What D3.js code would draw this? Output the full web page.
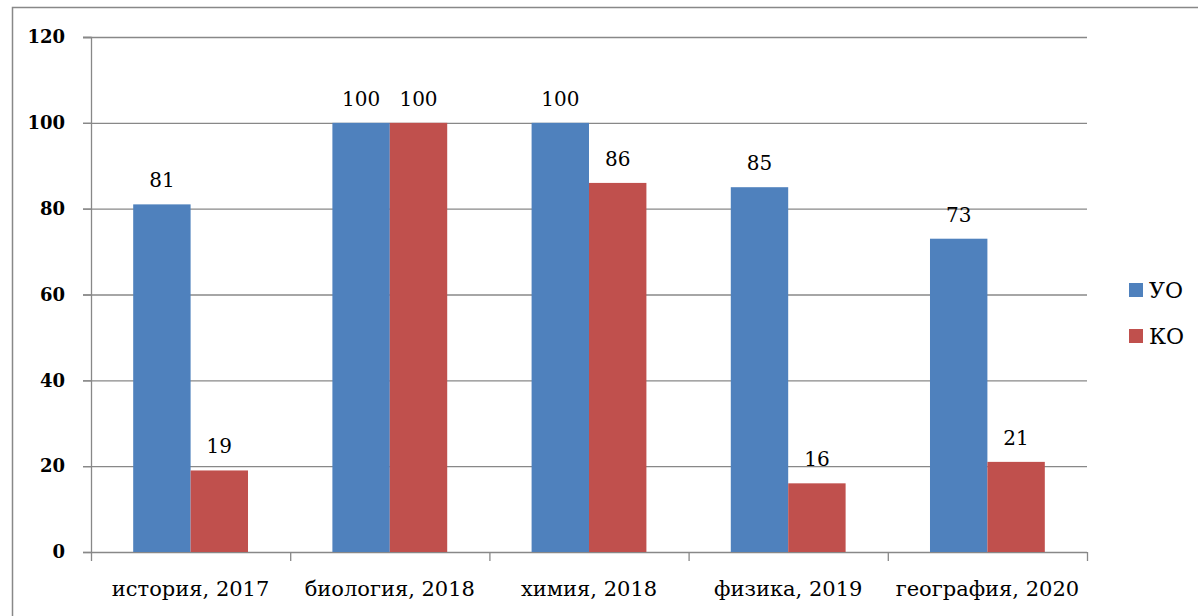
<!DOCTYPE html>
<style>
    body { margin: 0; background: #fff; }
    text { font-family: 'DejaVu Serif', serif; fill: #000; }
</style>
<svg width="1198" height="616"></svg>
<script src="https://d3js.org/d3.v7.min.js"></script>
<script>
    // data
    var categories = ["история, 2017", "биология, 2018", "химия, 2018", "физика, 2019", "география, 2020"];
    var seriesNames = ["УО", "КО"];
    var uoValues = [81, 100, 100, 85, 73];
    var koValues = [19, 100, 86, 16, 21];
    var yTicks = [0, 20, 40, 60, 80, 100, 120];
    var colors = ["#4F81BD", "#C0504D"];

    var svg = d3.select("svg"),
        margin = {top: 37, right: 111, bottom: 64, left: 91},
        width = +svg.attr("width") - margin.left - margin.right,
        height = +svg.attr("height") - margin.top - margin.bottom;

    // outer frame
    svg.append("rect")
        .attr("x", 12.5).attr("y", 7.5)
        .attr("width", 1200).attr("height", 700)
        .attr("fill", "none")
        .attr("stroke", "#888").attr("stroke-width", 1.5);

    var g = svg.append("g").attr("transform", "translate(" + margin.left + "," + margin.top + ")");

    var x0 = d3.scaleBand().domain(categories).range([0, width]);
    var x1 = d3.scaleBand().domain(seriesNames).range([0, x0.bandwidth()]).paddingOuter(0.735);
    var y = d3.scaleLinear().domain([0, 120]).range([height, 0]);
    var z = d3.scaleOrdinal().domain(seriesNames).range(colors);

    // gridlines
    g.append("g")
        .selectAll("line")
        .data(yTicks.filter(function(d) { return d > 0; }))
        .enter().append("line")
        .attr("x1", -8).attr("x2", width)
        .attr("y1", function(d) { return y(d) + 0.5; })
        .attr("y2", function(d) { return y(d) + 0.5; })
        .attr("stroke", "#888").attr("stroke-width", 1.3);

    // y axis
    var yAxis = g.append("g")
        .call(d3.axisLeft(y).tickValues(yTicks).tickSize(8).tickPadding(18));
    yAxis.select(".domain").attr("stroke", "#888").attr("stroke-width", 1.3);
    yAxis.selectAll(".tick line").attr("stroke", "#888").attr("stroke-width", 1.3);
    yAxis.selectAll("text")
        .style("font-family", "'DejaVu Serif', serif")
        .style("font-size", "18px")
        .style("font-weight", "bold")
        .attr("fill", "#000");

    // x axis
    var xAxisG = g.append("g").attr("transform", "translate(0," + height + ")");
    xAxisG.append("line")
        .attr("x1", 0).attr("x2", width)
        .attr("y1", 0.5).attr("y2", 0.5)
        .attr("stroke", "#888").attr("stroke-width", 1.3);
    xAxisG.selectAll("line.tk")
        .data(d3.range(categories.length + 1))
        .enter().append("line")
        .attr("class", "tk")
        .attr("x1", function(i) { return i * x0.step() + 0.5; })
        .attr("x2", function(i) { return i * x0.step() + 0.5; })
        .attr("y1", 0).attr("y2", 9)
        .attr("stroke", "#888").attr("stroke-width", 1.3);
    xAxisG.selectAll("text")
        .data(categories)
        .enter().append("text")
        .attr("x", function(d) { return x0(d) + x0.bandwidth() / 2; })
        .attr("y", 44)
        .attr("text-anchor", "middle")
        .style("font-size", "21px")
        .text(function(d) { return d; });

    // bars
    var rows = categories.map(function(c, i) { return {cat: c, values: [uoValues[i], koValues[i]]}; });
    var groups = g.append("g")
        .selectAll("g")
        .data(rows)
        .enter().append("g")
        .attr("transform", function(d) { return "translate(" + x0(d.cat) + ",0)"; });

    groups.selectAll("rect")
        .data(function(d) { return d.values.map(function(v, j) { return {key: seriesNames[j], value: v}; }); })
        .enter().append("rect")
        .attr("x", function(d) { return x1(d.key); })
        .attr("y", function(d) { return y(d.value); })
        .attr("width", x1.bandwidth())
        .attr("height", function(d) { return height - y(d.value); })
        .attr("fill", function(d) { return z(d.key); });

    groups.selectAll("text")
        .data(function(d) { return d.values.map(function(v, j) { return {key: seriesNames[j], value: v}; }); })
        .enter().append("text")
        .attr("x", function(d) { return x1(d.key) + x1.bandwidth() / 2; })
        .attr("y", function(d) { return y(d.value) - 17; })
        .attr("text-anchor", "middle")
        .style("font-size", "20px")
        .text(function(d) { return d.value; });

    // legend
    var legend = svg.append("g")
        .selectAll("g")
        .data(seriesNames)
        .enter().append("g")
        .attr("transform", function(d, i) { return "translate(1129," + (283 + i * 46) + ")"; });

    legend.append("rect")
        .attr("width", 14).attr("height", 14)
        .attr("fill", z);

    legend.append("text")
        .attr("x", 20)
        .attr("y", 15)
        .style("font-size", "22px")
        .text(function(d) { return d; });
</script>
